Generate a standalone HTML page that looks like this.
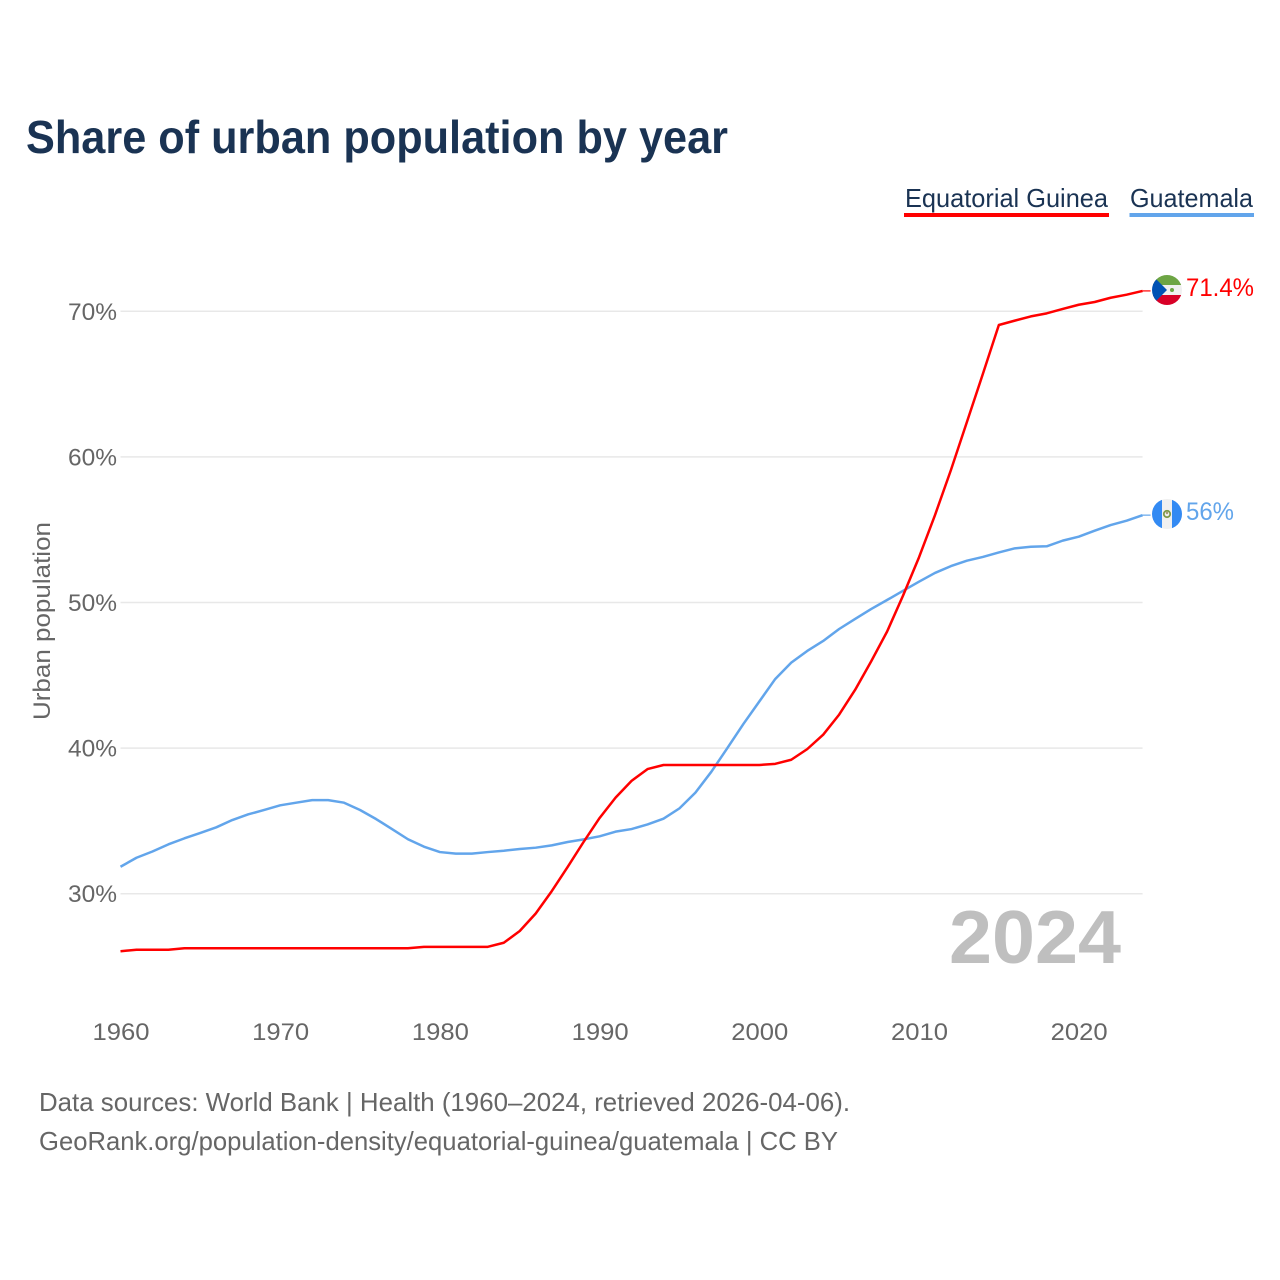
<!DOCTYPE html>
<html lang="en">
<head>
<meta charset="utf-8">
<title>Share of urban population by year</title>
<style>
html,body{margin:0;padding:0;background:#fff;width:1280px;height:1280px;overflow:hidden}
svg{display:block}
text{font-family:"Liberation Sans",sans-serif}
</style>
</head>
<body>
<svg id="chart" xmlns="http://www.w3.org/2000/svg" width="1280" height="1280" viewBox="0 0 1280 1280">
  <defs>
    <clipPath id="flag-clip-gq"><circle cx="1167" cy="290" r="15"/></clipPath>
    <clipPath id="flag-clip-gt"><circle cx="1167" cy="514" r="15"/></clipPath>
  </defs>
  <rect x="0" y="0" width="1280" height="1280" fill="#fff"/>
  <text x="26" y="153" font-size="46" font-weight="700" fill="#1a3353" textLength="702" lengthAdjust="spacingAndGlyphs">Share of urban population by year</text>

  <g>
    <text x="905" y="207" font-size="26" fill="#1a3353" textLength="203" lengthAdjust="spacingAndGlyphs">Equatorial Guinea</text>
    <rect x="904" y="213" width="205" height="4" fill="#ff0000"/>
  </g>
  <g>
    <text x="1130" y="207" font-size="26" fill="#1a3353" textLength="123" lengthAdjust="spacingAndGlyphs">Guatemala</text>
    <rect x="1129.500" y="213" width="124.500" height="4" fill="#62a5eb"/>
  </g>

  <g id="grid"></g>
  <g id="y-ticks"></g>
  <g id="x-ticks"></g>
  <text transform="translate(50,621) rotate(-90)" text-anchor="middle" font-size="24" fill="#666" textLength="198" lengthAdjust="spacingAndGlyphs">Urban population</text>
  <text x="949" y="963" font-size="75" font-weight="700" fill="#bfbfbf" textLength="172" lengthAdjust="spacingAndGlyphs">2024</text>
  <g id="series"></g>

  <g clip-path="url(#flag-clip-gq)">
    <rect x="1152" y="275" width="30" height="30" fill="#f0f0f0"/>
    <rect x="1152" y="275" width="30" height="10" fill="#6da544"/>
    <rect x="1152" y="295" width="30" height="10" fill="#d80027"/>
    <path d="M1152 275 L1167 290 L1152 305 Z" fill="#0052b4"/>
    <circle cx="1172" cy="290" r="2" fill="#6da544"/>
  </g>
  <g clip-path="url(#flag-clip-gt)">
    <rect x="1152" y="499" width="30" height="30" fill="#f0f0f0"/>
    <rect x="1152" y="499" width="10" height="30" fill="#338af3"/>
    <rect x="1172" y="499" width="10" height="30" fill="#338af3"/>
    <circle cx="1167" cy="514" r="3.200" fill="none" stroke="#7f9a4a" stroke-width="1.800"/>
    <circle cx="1167" cy="513" r="1.200" fill="#a89a70"/>
  </g>
  <text id="value-label-gq" x="1186" y="296" font-size="25" fill="#ff0000" textLength="68" lengthAdjust="spacingAndGlyphs"></text>
  <text id="value-label-gt" x="1186" y="520" font-size="25" fill="#62a5eb" textLength="48" lengthAdjust="spacingAndGlyphs"></text>

  <text x="39" y="1111" font-size="26" fill="#666" textLength="811" lengthAdjust="spacingAndGlyphs">Data sources: World Bank | Health (1960–2024, retrieved 2026-04-06).</text>
  <a><text x="39" y="1150" font-size="26" fill="#666" textLength="799" lengthAdjust="spacingAndGlyphs">GeoRank.org/population-density/equatorial-guinea/guatemala | CC BY</text></a>
</svg>
<script>
const firstYear = 1960;
const xTickYears = [1960, 1970, 1980, 1990, 2000, 2010, 2020];
const yTickValues = [30, 40, 50, 60, 70];
const equatorialGuinea = [
  26.05, 26.15, 26.15, 26.15, 26.25, 26.25, 26.25, 26.25, 26.25, 26.25,
  26.25, 26.25, 26.25, 26.25, 26.25, 26.25, 26.25, 26.25, 26.25, 26.35,
  26.35, 26.35, 26.35, 26.35, 26.63, 27.44, 28.64, 30.17, 31.84, 33.56,
  35.2, 36.6, 37.75, 38.56, 38.84, 38.84, 38.84, 38.84, 38.84, 38.84,
  38.84, 38.92, 39.2, 39.93, 40.92, 42.3, 44.0, 45.95, 48.0, 50.47,
  53.1, 56.0, 59.1, 62.4, 65.7, 69.06, 69.36, 69.65, 69.86, 70.16,
  70.45, 70.64, 70.93, 71.14, 71.4
];
const guatemala = [
  31.85, 32.47, 32.9, 33.39, 33.8, 34.17, 34.56, 35.06, 35.45, 35.75,
  36.07, 36.25, 36.43, 36.43, 36.25, 35.75, 35.13, 34.44, 33.74, 33.23,
  32.86, 32.75, 32.75, 32.86, 32.95, 33.07, 33.16, 33.32, 33.55, 33.73,
  33.94, 34.26, 34.44, 34.76, 35.15, 35.86, 36.94, 38.38, 40.0, 41.65,
  43.2, 44.75, 45.87, 46.67, 47.36, 48.18, 48.87, 49.55, 50.17, 50.8,
  51.43, 52.03, 52.5, 52.87, 53.13, 53.44, 53.72, 53.83, 53.86, 54.25,
  54.52, 54.93, 55.32, 55.62, 56.0
];
const equatorialGuineaLabel = '71.4%';
const guatemalaLabel = '56%';

const NS = 'http://www.w3.org/2000/svg';
function xScale(year) { return 120.5 + (year - firstYear) * 15.97; }
function yScale(value) { return 893.7 - (value - 30) * 14.56; }

const gridGroup = document.getElementById('grid');
const yTickGroup = document.getElementById('y-ticks');
yTickValues.forEach(function (v) {
  const line = document.createElementNS(NS, 'line');
  
  
  line.setAttribute('x1', xScale(firstYear));
  line.setAttribute('x2', xScale(2024));
  line.setAttribute('y1', yScale(v));
  line.setAttribute('y2', yScale(v));
  line.setAttribute('stroke', '#e8e8e8');
  line.setAttribute('stroke-width', '1.5');
  gridGroup.appendChild(line);

  const label = document.createElementNS(NS, 'text');
  
  
  label.setAttribute('x', 117);
  label.setAttribute('y', yScale(v) + 8.5);
  label.setAttribute('text-anchor', 'end');
  label.setAttribute('font-size', '24');
  label.setAttribute('fill', '#666');
  label.setAttribute('textLength', '49');
  label.setAttribute('lengthAdjust', 'spacingAndGlyphs');
  label.textContent = v + '%';
  yTickGroup.appendChild(label);
});

const xTickGroup = document.getElementById('x-ticks');
xTickYears.forEach(function (year) {
  const label = document.createElementNS(NS, 'text');
  
  
  label.setAttribute('x', xScale(year) + 0.5);
  label.setAttribute('y', 1040);
  label.setAttribute('text-anchor', 'middle');
  label.setAttribute('font-size', '24');
  label.setAttribute('fill', '#666');
  label.setAttribute('textLength', '57');
  label.setAttribute('lengthAdjust', 'spacingAndGlyphs');
  label.textContent = year;
  xTickGroup.appendChild(label);
});

function pointsFor(values) {
  return values.map(function (v, i) {
    return xScale(firstYear + i).toFixed(2) + ',' + yScale(v).toFixed(2);
  }).join(' ');
}

const seriesGroup = document.getElementById('series');

const guatemalaLine = document.createElementNS(NS, 'polyline');


guatemalaLine.setAttribute('points', pointsFor(guatemala));
guatemalaLine.setAttribute('fill', 'none');
guatemalaLine.setAttribute('stroke', '#62a5eb');
guatemalaLine.setAttribute('stroke-width', '2.5');
guatemalaLine.setAttribute('stroke-linejoin', 'round');
seriesGroup.appendChild(guatemalaLine);

const equatorialGuineaLine = document.createElementNS(NS, 'polyline');


equatorialGuineaLine.setAttribute('points', pointsFor(equatorialGuinea));
equatorialGuineaLine.setAttribute('fill', 'none');
equatorialGuineaLine.setAttribute('stroke', '#ff0000');
equatorialGuineaLine.setAttribute('stroke-width', '2.5');
equatorialGuineaLine.setAttribute('stroke-linejoin', 'round');
seriesGroup.appendChild(equatorialGuineaLine);

const guatemalaConnector = document.createElementNS(NS, 'line');


guatemalaConnector.setAttribute('x1', xScale(2024));
guatemalaConnector.setAttribute('x2', xScale(2024) + 8);
guatemalaConnector.setAttribute('y1', yScale(guatemala[guatemala.length - 1]));
guatemalaConnector.setAttribute('y2', yScale(guatemala[guatemala.length - 1]));
guatemalaConnector.setAttribute('stroke', '#62a5eb');
guatemalaConnector.setAttribute('stroke-width', '1.2');
seriesGroup.appendChild(guatemalaConnector);

const equatorialGuineaConnector = document.createElementNS(NS, 'line');


equatorialGuineaConnector.setAttribute('x1', xScale(2024));
equatorialGuineaConnector.setAttribute('x2', xScale(2024) + 8);
equatorialGuineaConnector.setAttribute('y1', yScale(equatorialGuinea[equatorialGuinea.length - 1]));
equatorialGuineaConnector.setAttribute('y2', yScale(equatorialGuinea[equatorialGuinea.length - 1]));
equatorialGuineaConnector.setAttribute('stroke', '#ff0000');
equatorialGuineaConnector.setAttribute('stroke-width', '1.2');
seriesGroup.appendChild(equatorialGuineaConnector);

document.getElementById('value-label-gq').textContent = equatorialGuineaLabel;
document.getElementById('value-label-gt').textContent = guatemalaLabel;
</script>
</body>
</html>
